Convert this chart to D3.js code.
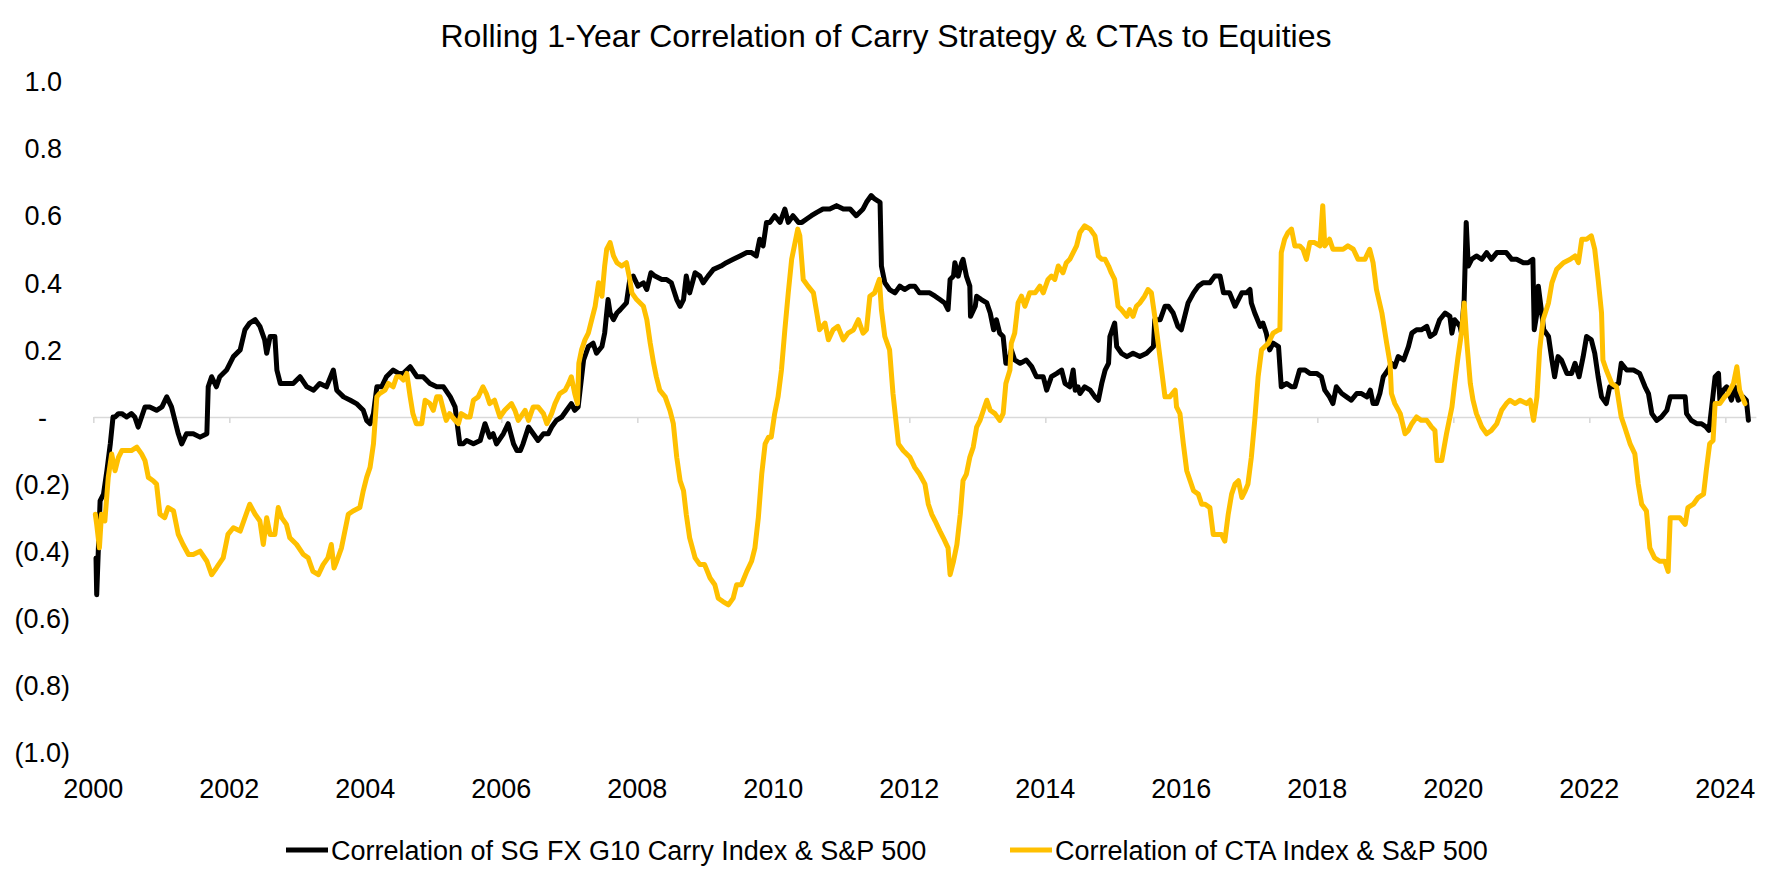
<!DOCTYPE html>
<html><head><meta charset="utf-8">
<script src="https://cdn.jsdelivr.net/npm/d3@7"></script>
<style>
html,body{margin:0;padding:0;background:#fff;}
svg{display:block;}
text{font-family:"Liberation Sans",Arial,Helvetica,sans-serif;fill:#000;}
</style>
</head><body>
<svg id="chart" width="1772" height="886"></svg>
<script>
// ---- data (decimal years) ----
const carryT=[0.04,0.05,0.10,0.15,0.20,0.25,0.29,0.32,0.37,0.42,0.49,0.56,0.61,0.66,0.71,0.76,0.83,0.93,1.01,1.08,1.15,1.20,1.25,1.30,1.37,1.47,1.57,1.67,1.69,1.74,1.81,1.86,1.96,2.06,2.16,2.23,2.30,2.38,2.45,2.52,2.55,2.60,2.67,2.70,2.75,2.84,2.94,3.04,3.14,3.24,3.33,3.43,3.53,3.58,3.68,3.78,3.87,3.97,4.02,4.07,4.12,4.17,4.24,4.31,4.41,4.49,4.56,4.66,4.76,4.85,4.95,5.05,5.15,5.25,5.32,5.39,5.44,5.49,5.59,5.69,5.76,5.83,5.88,5.93,6.03,6.10,6.18,6.23,6.28,6.32,6.40,6.47,6.54,6.62,6.69,6.74,6.81,6.89,6.96,7.03,7.08,7.13,7.21,7.28,7.35,7.40,7.48,7.52,7.57,7.60,7.65,7.70,7.75,7.84,7.89,7.94,8.01,8.09,8.14,8.20,8.26,8.36,8.43,8.50,8.58,8.63,8.68,8.72,8.77,8.85,8.92,8.97,9.04,9.12,9.23,9.31,9.41,9.51,9.61,9.68,9.75,9.80,9.85,9.90,9.95,10.02,10.10,10.17,10.22,10.29,10.37,10.42,10.49,10.56,10.64,10.73,10.83,10.93,11.03,11.13,11.22,11.32,11.37,11.44,11.49,11.57,11.59,11.64,11.71,11.79,11.86,11.93,12.01,12.08,12.15,12.23,12.30,12.38,12.45,12.52,12.57,12.60,12.65,12.67,12.72,12.77,12.79,12.84,12.89,12.90,12.97,12.99,13.06,13.14,13.19,13.24,13.28,13.33,13.38,13.42,13.46,13.50,13.55,13.63,13.72,13.80,13.87,13.92,13.97,14.02,14.09,14.17,14.24,14.29,14.36,14.41,14.44,14.48,14.51,14.58,14.66,14.73,14.78,14.83,14.88,14.93,14.95,15.02,15.05,15.12,15.20,15.29,15.39,15.49,15.59,15.61,15.69,15.76,15.81,15.88,15.95,16.00,16.05,16.10,16.18,16.25,16.32,16.42,16.49,16.57,16.62,16.66,16.71,16.79,16.84,16.89,16.96,17.01,17.03,17.08,17.16,17.20,17.25,17.30,17.35,17.43,17.47,17.55,17.62,17.67,17.74,17.82,17.89,17.99,18.06,18.11,18.18,18.23,18.28,18.36,18.43,18.50,18.58,18.65,18.73,18.78,18.82,18.87,18.92,18.97,19.04,19.09,19.14,19.19,19.27,19.34,19.39,19.46,19.53,19.61,19.66,19.73,19.80,19.88,19.95,19.98,20.02,20.10,20.12,20.16,20.19,20.22,20.27,20.34,20.42,20.49,20.56,20.64,20.71,20.78,20.86,20.93,21.03,21.10,21.17,21.19,21.23,21.25,21.30,21.33,21.40,21.45,21.49,21.54,21.59,21.67,21.74,21.79,21.85,21.91,21.96,22.03,22.08,22.13,22.18,22.25,22.30,22.35,22.43,22.47,22.55,22.65,22.74,22.82,22.87,22.92,22.99,23.06,23.14,23.19,23.26,23.33,23.41,23.43,23.50,23.58,23.65,23.72,23.76,23.80,23.85,23.90,23.92,23.97,24.02,24.09,24.14,24.19,24.26,24.31,24.34];
const carryV=[-0.42,-0.53,-0.25,-0.23,-0.16,-0.08,0.00,0.00,0.01,0.01,0.00,0.01,0.00,-0.03,0.00,0.03,0.03,0.02,0.03,0.06,0.03,-0.01,-0.05,-0.08,-0.05,-0.05,-0.06,-0.05,0.09,0.12,0.09,0.12,0.14,0.18,0.20,0.26,0.28,0.29,0.27,0.23,0.19,0.24,0.24,0.14,0.10,0.10,0.10,0.12,0.09,0.08,0.10,0.09,0.14,0.08,0.06,0.05,0.04,0.02,-0.01,-0.02,0.01,0.09,0.09,0.12,0.14,0.13,0.13,0.15,0.12,0.12,0.10,0.09,0.09,0.06,0.03,-0.08,-0.08,-0.07,-0.08,-0.07,-0.02,-0.06,-0.05,-0.08,-0.05,-0.02,-0.08,-0.10,-0.10,-0.08,-0.03,-0.05,-0.07,-0.05,-0.05,-0.03,-0.01,0.00,0.02,0.04,0.02,0.03,0.17,0.21,0.22,0.19,0.21,0.25,0.35,0.31,0.29,0.31,0.32,0.34,0.41,0.42,0.39,0.40,0.38,0.43,0.42,0.41,0.41,0.40,0.35,0.33,0.35,0.42,0.37,0.43,0.42,0.40,0.42,0.44,0.45,0.46,0.47,0.48,0.49,0.49,0.48,0.53,0.51,0.58,0.58,0.60,0.58,0.62,0.58,0.60,0.58,0.58,0.59,0.60,0.61,0.62,0.62,0.63,0.62,0.62,0.60,0.62,0.64,0.66,0.65,0.64,0.45,0.40,0.38,0.37,0.39,0.38,0.39,0.39,0.37,0.37,0.37,0.36,0.35,0.34,0.32,0.41,0.42,0.46,0.42,0.46,0.47,0.42,0.39,0.30,0.33,0.36,0.35,0.34,0.31,0.26,0.29,0.25,0.24,0.16,0.16,0.20,0.17,0.16,0.17,0.15,0.12,0.12,0.12,0.08,0.12,0.13,0.14,0.10,0.09,0.14,0.08,0.09,0.07,0.09,0.08,0.06,0.05,0.10,0.14,0.16,0.24,0.28,0.21,0.19,0.18,0.19,0.18,0.19,0.21,0.29,0.29,0.33,0.33,0.31,0.27,0.26,0.30,0.34,0.37,0.39,0.40,0.40,0.42,0.42,0.37,0.37,0.37,0.33,0.35,0.37,0.37,0.38,0.34,0.31,0.27,0.28,0.25,0.20,0.22,0.21,0.09,0.10,0.09,0.09,0.14,0.14,0.13,0.13,0.12,0.08,0.06,0.04,0.09,0.07,0.06,0.05,0.07,0.07,0.06,0.08,0.04,0.04,0.07,0.12,0.14,0.16,0.15,0.18,0.17,0.21,0.25,0.26,0.26,0.27,0.24,0.25,0.29,0.31,0.30,0.25,0.29,0.27,0.25,0.35,0.58,0.45,0.47,0.48,0.47,0.49,0.47,0.49,0.49,0.49,0.47,0.47,0.46,0.46,0.47,0.26,0.31,0.39,0.31,0.26,0.24,0.17,0.12,0.18,0.17,0.13,0.13,0.16,0.12,0.18,0.24,0.23,0.19,0.12,0.06,0.04,0.09,0.09,0.10,0.16,0.14,0.14,0.13,0.09,0.07,0.01,-0.01,0.00,0.02,0.06,0.06,0.06,0.06,0.01,-0.01,-0.02,-0.02,-0.03,-0.04,0.03,0.12,0.13,0.05,0.08,0.09,0.05,0.09,0.05,0.06,0.05,-0.01];
const ctaT=[0.03,0.05,0.09,0.12,0.17,0.22,0.27,0.32,0.37,0.42,0.49,0.56,0.64,0.71,0.76,0.81,0.88,0.93,0.98,1.05,1.10,1.18,1.25,1.32,1.40,1.47,1.57,1.67,1.74,1.81,1.91,1.98,2.06,2.16,2.23,2.30,2.38,2.45,2.50,2.55,2.60,2.67,2.72,2.77,2.84,2.89,2.99,3.09,3.16,3.23,3.31,3.38,3.45,3.50,3.54,3.58,3.65,3.70,3.75,3.82,3.92,3.97,4.02,4.07,4.12,4.17,4.21,4.29,4.34,4.41,4.46,4.51,4.56,4.61,4.66,4.70,4.75,4.83,4.88,4.95,5.00,5.05,5.10,5.15,5.19,5.24,5.32,5.37,5.41,5.49,5.54,5.59,5.66,5.73,5.78,5.83,5.90,5.98,6.05,6.15,6.20,6.25,6.35,6.40,6.47,6.54,6.62,6.67,6.74,6.79,6.86,6.94,6.99,7.03,7.08,7.12,7.14,7.18,7.23,7.28,7.33,7.38,7.43,7.48,7.52,7.55,7.60,7.65,7.70,7.77,7.84,7.89,7.92,7.99,8.09,8.14,8.19,8.24,8.28,8.33,8.41,8.48,8.53,8.58,8.63,8.68,8.72,8.77,8.85,8.92,8.99,9.07,9.14,9.19,9.26,9.34,9.41,9.46,9.53,9.61,9.68,9.73,9.78,9.83,9.88,9.93,9.97,10.02,10.07,10.12,10.17,10.22,10.27,10.32,10.36,10.39,10.44,10.51,10.59,10.64,10.68,10.76,10.81,10.88,10.95,11.03,11.10,11.18,11.25,11.32,11.37,11.42,11.49,11.56,11.59,11.64,11.71,11.76,11.84,11.91,12.01,12.08,12.15,12.23,12.28,12.33,12.38,12.45,12.50,12.57,12.60,12.65,12.70,12.75,12.79,12.84,12.89,12.94,12.99,13.04,13.09,13.14,13.19,13.26,13.33,13.38,13.42,13.48,13.50,13.55,13.60,13.65,13.70,13.77,13.85,13.92,13.97,14.04,14.09,14.14,14.19,14.26,14.31,14.36,14.41,14.46,14.51,14.58,14.66,14.73,14.78,14.83,14.88,14.93,14.97,15.02,15.07,15.12,15.20,15.24,15.29,15.34,15.39,15.46,15.51,15.56,15.61,15.66,15.71,15.76,15.83,15.91,15.93,15.98,16.03,16.08,16.13,16.18,16.25,16.30,16.35,16.42,16.47,16.52,16.59,16.64,16.69,16.74,16.79,16.84,16.89,16.94,16.98,17.03,17.08,17.13,17.18,17.23,17.28,17.35,17.43,17.45,17.47,17.52,17.57,17.62,17.67,17.74,17.79,17.84,17.89,17.96,18.04,18.08,18.11,18.18,18.23,18.31,18.38,18.45,18.53,18.60,18.63,18.70,18.77,18.82,18.87,18.95,19.02,19.07,19.09,19.14,19.22,19.29,19.34,19.39,19.46,19.53,19.61,19.68,19.73,19.76,19.83,19.90,19.98,20.02,20.07,20.12,20.16,20.20,20.25,20.29,20.34,20.42,20.49,20.56,20.64,20.71,20.78,20.83,20.91,20.98,21.08,21.13,21.18,21.23,21.27,21.32,21.40,21.45,21.52,21.62,21.72,21.79,21.84,21.89,21.96,22.03,22.08,22.13,22.18,22.20,22.25,22.33,22.40,22.47,22.52,22.60,22.67,22.72,22.77,22.84,22.89,22.96,23.04,23.11,23.16,23.19,23.26,23.33,23.41,23.45,23.53,23.60,23.68,23.72,23.77,23.82,23.85,23.92,23.99,24.04,24.12,24.17,24.21,24.29];
const ctaV=[-0.29,-0.32,-0.39,-0.29,-0.31,-0.18,-0.11,-0.16,-0.12,-0.10,-0.10,-0.10,-0.09,-0.11,-0.13,-0.18,-0.19,-0.20,-0.29,-0.30,-0.27,-0.28,-0.35,-0.38,-0.41,-0.41,-0.40,-0.43,-0.47,-0.45,-0.42,-0.35,-0.33,-0.34,-0.30,-0.26,-0.29,-0.31,-0.38,-0.30,-0.35,-0.35,-0.27,-0.30,-0.32,-0.36,-0.38,-0.41,-0.42,-0.46,-0.47,-0.44,-0.42,-0.38,-0.45,-0.43,-0.39,-0.34,-0.29,-0.28,-0.27,-0.22,-0.18,-0.15,-0.08,0.06,0.07,0.08,0.10,0.09,0.12,0.12,0.11,0.13,0.06,0.01,-0.02,-0.02,0.05,0.04,0.02,0.06,0.06,0.02,-0.01,0.01,-0.01,-0.02,0.01,0.00,0.00,0.05,0.06,0.09,0.07,0.04,0.05,0.00,0.02,0.04,0.02,-0.01,0.02,-0.01,0.03,0.03,0.01,-0.02,0.01,0.04,0.07,0.08,0.10,0.12,0.07,0.04,0.16,0.20,0.23,0.25,0.29,0.33,0.40,0.36,0.45,0.50,0.52,0.48,0.46,0.45,0.46,0.41,0.37,0.35,0.33,0.29,0.22,0.16,0.12,0.08,0.06,0.02,-0.02,-0.12,-0.19,-0.22,-0.29,-0.36,-0.42,-0.44,-0.44,-0.48,-0.50,-0.54,-0.55,-0.56,-0.54,-0.50,-0.50,-0.46,-0.43,-0.39,-0.30,-0.17,-0.08,-0.06,-0.06,0.01,0.06,0.14,0.26,0.37,0.47,0.52,0.56,0.54,0.41,0.39,0.37,0.31,0.26,0.28,0.23,0.26,0.27,0.23,0.25,0.26,0.29,0.25,0.26,0.36,0.37,0.41,0.32,0.24,0.20,0.07,-0.08,-0.10,-0.12,-0.15,-0.17,-0.20,-0.26,-0.29,-0.31,-0.34,-0.36,-0.39,-0.47,-0.43,-0.38,-0.29,-0.19,-0.17,-0.12,-0.09,-0.03,-0.01,0.02,0.05,0.02,0.01,-0.01,0.01,0.10,0.14,0.22,0.25,0.34,0.36,0.33,0.37,0.37,0.39,0.37,0.41,0.42,0.41,0.45,0.43,0.46,0.47,0.49,0.51,0.55,0.57,0.56,0.54,0.48,0.47,0.47,0.45,0.43,0.41,0.33,0.32,0.30,0.32,0.30,0.33,0.34,0.36,0.38,0.37,0.30,0.22,0.14,0.06,0.06,0.08,0.03,0.01,-0.08,-0.16,-0.19,-0.22,-0.23,-0.26,-0.26,-0.27,-0.35,-0.35,-0.35,-0.37,-0.29,-0.23,-0.20,-0.19,-0.24,-0.22,-0.20,-0.12,-0.01,0.12,0.20,0.21,0.22,0.25,0.26,0.26,0.49,0.53,0.55,0.56,0.51,0.51,0.50,0.47,0.52,0.52,0.51,0.63,0.51,0.53,0.50,0.50,0.50,0.51,0.50,0.47,0.47,0.47,0.50,0.46,0.38,0.31,0.22,0.16,0.07,0.04,0.01,-0.05,-0.04,-0.02,0.00,-0.01,-0.01,-0.03,-0.04,-0.13,-0.13,-0.05,0.03,0.10,0.18,0.25,0.34,0.22,0.10,0.05,0.01,-0.03,-0.05,-0.04,-0.02,0.02,0.04,0.05,0.04,0.05,0.04,0.05,-0.01,0.06,0.20,0.29,0.34,0.40,0.44,0.46,0.47,0.48,0.46,0.53,0.53,0.54,0.50,0.41,0.31,0.17,0.14,0.10,0.09,0.00,-0.03,-0.08,-0.11,-0.20,-0.26,-0.28,-0.39,-0.42,-0.43,-0.43,-0.46,-0.30,-0.30,-0.30,-0.32,-0.27,-0.26,-0.24,-0.23,-0.16,-0.08,-0.07,0.04,0.04,0.06,0.07,0.10,0.15,0.08,0.04];
const baseYear=2000;
const xTickYears=[2000,2002,2004,2006,2008,2010,2012,2014,2016,2018,2020,2022,2024];
const yTickValues=[1.0,0.8,0.6,0.4,0.2,0,-0.2,-0.4,-0.6,-0.8,-1.0];
const seriesNames=["Correlation of SG FX G10 Carry Index & S&P 500","Correlation of CTA Index & S&P 500"];
const seriesColors=["#000000","#FFC000"];
const titleText="Rolling 1-Year Correlation of Carry Strategy & CTAs to Equities";

// ---- drawing ----
const svg=d3.select("#chart");
svg.append("rect").attr("width",1772).attr("height",886).attr("fill","#fff");

const x=d3.scaleLinear().domain([2000,2024.45]).range([93.3,1755.9]);
const y=d3.scaleLinear().domain([-1,1]).range([752.5,81.5]);

// title
svg.append("text").attr("x",886).attr("y",47).attr("text-anchor","middle")
  .style("font-size","32px").text(titleText);

// y labels
const fmt=v=>v>0?v.toFixed(1):(v<0?"("+Math.abs(v).toFixed(1)+")":"-");
svg.append("g").selectAll("text").data(yTickValues).join("text")
  .attr("x",v=>v>0?62:(v<0?70:47))
  .attr("y",v=>y(v)+9.7)
  .attr("text-anchor","end")
  .style("font-size","27px")
  .text(fmt);

// zero axis with ticks
const axis=d3.axisBottom(x).tickValues(xTickYears).tickSize(6).tickSizeOuter(0).tickFormat("");
const ag=svg.append("g").attr("transform",`translate(0,${y(0)})`).call(axis);
ag.select(".domain").attr("stroke","#d9d9d9").attr("stroke-width",1.6);
ag.selectAll(".tick line").attr("stroke","#d9d9d9").attr("stroke-width",1.6);

// x labels
svg.append("g").selectAll("text").data(xTickYears).join("text")
  .attr("x",d=>x(d)).attr("y",797.7).attr("text-anchor","middle")
  .style("font-size","27px").text(d=>d);

// lines
const line=d3.line().x(d=>x(baseYear+d[0])).y(d=>y(d[1]));
const carry=carryT.map((t,i)=>[t,carryV[i]]);
const cta=ctaT.map((t,i)=>[t,ctaV[i]]);
[carry,cta].forEach((s,i)=>{
  svg.append("path").datum(s).attr("d",line).attr("fill","none")
    .attr("stroke",seriesColors[i]).attr("stroke-width",5)
    .attr("stroke-linejoin","round").attr("stroke-linecap","round");
});

// legend
const legendX=[286,1010];
seriesNames.forEach((n,i)=>{
  svg.append("line").attr("x1",legendX[i]).attr("x2",legendX[i]+42)
    .attr("y1",850).attr("y2",850).attr("stroke",seriesColors[i]).attr("stroke-width",5);
  svg.append("text").attr("x",legendX[i]+45).attr("y",860).style("font-size","27px").text(n);
});
</script>
</body></html>
